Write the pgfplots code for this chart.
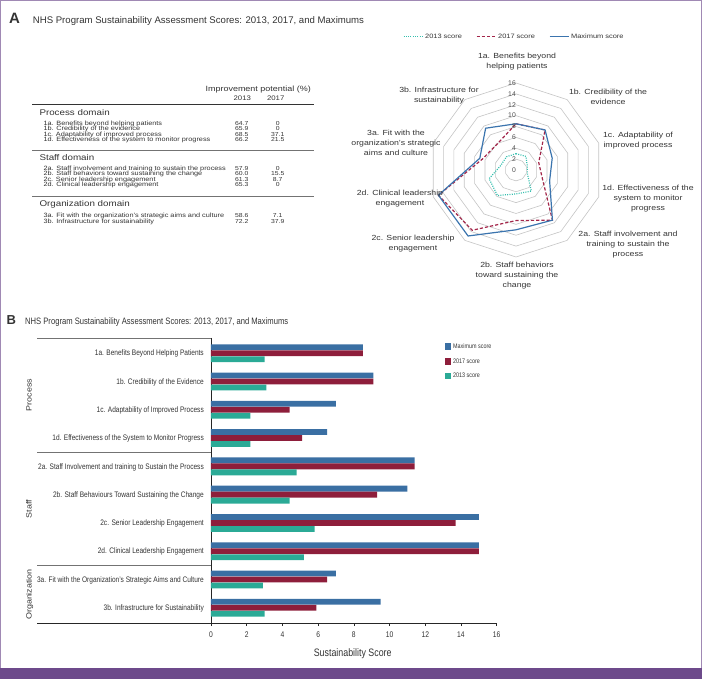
\documentclass[border=0pt]{standalone}
\usepackage{pgfplots}
\pgfplotsset{compat=1.18}
\usepackage{pgfplotstable}
\usepgfplotslibrary{polar}
\usepackage{fontspec}
\setmainfont{Liberation Sans}
\newfontfamily\wide[FakeStretch=1.18]{Liberation Sans}
\newfontfamily\cond[FakeStretch=0.82]{Liberation Sans}
\newcommand\fs[1]{\fontsize{#1}{#1}\selectfont}

\definecolor{maxc}{HTML}{3A6FA3}
\definecolor{c17}{HTML}{8E1E3B}
\definecolor{c13}{HTML}{2BAA96}
\definecolor{rmax}{HTML}{3B74AE}
\definecolor{r17}{HTML}{A3264A}
\definecolor{r13}{HTML}{35BFAE}
\definecolor{frame}{HTML}{6D4A8B}
\definecolor{txt}{HTML}{333333}
\definecolor{ring}{HTML}{C4C4C4}

% scores per item; ang = position on the radar, last row closes the polygon
\pgfplotstableread{
idx ang  max  s17  s13
0   90   8.5  8.5  3.0
1   54   9.1  9.1  3.1
2   18   7.0  4.4  2.2
3   -18  6.5  5.1  2.2
4   -54  11.4 11.4 4.8
5   -90  11.0 9.3  4.4
6   -126 15.0 13.7 5.8
7   -162 15.0 15.0 5.2
8   -198 7.0  6.5  2.9
9   -234 9.5  5.9  3.0
10  -270 8.5  8.5  3.0
}\scores

\begin{document}
\begin{tikzpicture}
\path[use as bounding box] (0,0) rectangle (702pt,-679pt);

% frame
\draw[frame!65, line width=1pt] (0.5pt,-679pt) -- (0.5pt,-0.5pt) -- (701.5pt,-0.5pt) -- (701.5pt,-679pt);
\fill[frame] (0,-667.5pt) rectangle (702pt,-679pt);

% ---------- panel A ----------
\node[anchor=base west, inner sep=0pt, font=\bfseries\fs{15}, text=txt] at (9pt,-23.3pt) {A};
\node[anchor=base west, inner sep=0pt, font=\fs{9.6}, text=txt] at (32.7pt,-23.3pt)
  {NHS Program Sustainability Assessment Scores: 2013, 2017, and Maximums};

% table
\begin{scope}[every node/.style={inner sep=0pt, text=txt}]
\node[anchor=mid, font=\wide\fs{7.6}] at (258.2pt,-88.7pt) {Improvement potential (\%)};
\node[anchor=mid, font=\wide\fs{6.6}] at (242.3pt,-97.7pt) {2013};
\node[anchor=mid, font=\wide\fs{6.6}] at (275.7pt,-97.7pt) {2017};
\draw[line width=0.9pt, txt] (32.3pt,-104.3pt) -- (314pt,-104.3pt);
\draw[line width=1.4pt, black!55] (32.3pt,-150.7pt) -- (314pt,-150.7pt);
\draw[line width=1.4pt, black!55] (32.3pt,-196.7pt) -- (314pt,-196.7pt);
\node[anchor=mid west, font=\wide\fs{8.3}] at (39.3pt,-112.7pt) {Process domain};
\node[anchor=mid west, font=\wide\fs{8.3}] at (39.3pt,-157.7pt) {Staff domain};
\node[anchor=mid west, font=\wide\fs{8.3}] at (39.3pt,-203.7pt) {Organization domain};
\foreach \y/\t/\a/\b in {
  122.7/1a. Benefits beyond helping patients/64.7/0,
  128.3/1b. Credibility of the evidence/65.9/0,
  133.7/1c. Adaptability of improved process/68.5/37.1,
  139.3/1d. Effectiveness of the system to monitor progress/66.2/21.5,
  168.0/2a. Staff involvement and training to sustain the process/57.9/0,
  173.3/2b. Staff behaviors toward sustaining the change/60.0/15.5,
  179.0/2c. Senior leadership engagement/61.3/8.7,
  184.3/2d. Clinical leadership engagement/65.3/0,
  215.0/3a. Fit with the organization’s strategic aims and culture/58.6/7.1,
  220.7/3b. Infrastructure for sustainability/72.2/37.9}{
  \node[anchor=mid west, font=\wide\fs{6.2}] at (43.3pt,-\y pt) {\t};
  \node[anchor=mid, font=\wide\fs{5.8}] at (241.8pt,-\y pt) {\a};
  \node[anchor=mid, font=\wide\fs{5.8}] at (277.7pt,-\y pt) {\b};
}
\end{scope}

% radar
\begin{polaraxis}[
  at={(516pt,-170pt)}, anchor=origin,
  scale only axis, width=174pt, height=174pt,
  ymin=0, ymax=16,
  hide axis, clip=false,
  legend columns=3,
  legend style={at={(axis description cs:0.49,1.266)}, anchor=center, draw=none, fill=none,
    font=\wide\fs{6.3}, text=txt, inner sep=0pt,
    /tikz/every even column/.append style={column sep=12pt}},
  legend image code/.code={\draw[#1] (0pt,0pt) -- (19pt,0pt);},
]
\pgfplotsinvokeforeach{2,4,6,8,10,12,14,16}{
  \addplot[ring, line width=0.6pt, forget plot] coordinates
    {(90,#1) (54,#1) (18,#1) (-18,#1) (-54,#1) (-90,#1) (-126,#1) (-162,#1) (-198,#1) (-234,#1) (-270,#1)};
}
\addplot[r13, line width=1.2pt, dash pattern=on 1pt off 1.3pt, no markers] table[x=ang, y=s13] {\scores};
\addplot[r17, line width=1.2pt, dash pattern=on 3.2pt off 2pt, no markers] table[x=ang, y=s17] {\scores};
\addplot[rmax, line width=1.2pt, no markers] table[x=ang, y=max] {\scores};
\legend{2013 score, 2017 score, Maximum score}
\pgfplotsinvokeforeach{0,2,4,6,8,10,12,14,16}{
  \node[anchor=east, inner sep=0pt, font=\fs{6.8}, text=black!70] at (axis cs:90,#1) {#1\hspace{2pt}};
}
\end{polaraxis}

\begin{scope}[every node/.style={align=center, inner sep=0pt, text=txt, font=\wide\fontsize{7.4}{10}\selectfont}]
\node at (517pt,-62pt) {1a. Benefits beyond\\helping patients};
\node at (608pt,-97pt) {1b. Credibility of the\\evidence};
\node at (638pt,-141pt) {1c. Adaptability of\\improved process};
\node at (648pt,-199pt) {1d. Effectiveness of the\\system to monitor\\progress};
\node at (628pt,-244.5pt) {2a. Staff involvement and\\training to sustain the\\process};
\node at (517pt,-276pt) {2b. Staff behaviors\\toward sustaining the\\change};
\node at (413pt,-244pt) {2c. Senior leadership\\engagement};
\node at (400pt,-198.5pt) {2d. Clinical leadership\\engagement};
\node at (396pt,-142.5pt) {3a. Fit with the\\organization’s strategic\\aims and culture};
\node at (439pt,-96pt) {3b. Infrastructure for\\sustainability};
\end{scope}

% ---------- panel B ----------
\node[anchor=base west, inner sep=0pt, font=\bfseries\fs{13}, text=txt] at (6.5pt,-325pt) {B};
\node[anchor=base west, inner sep=0pt, font=\cond\fs{9.3}, text=txt] at (25pt,-325pt)
  {NHS Program Sustainability Assessment Scores: 2013, 2017, and Maximums};

\begin{axis}[
  at={(211pt,-623pt)}, anchor=south west,
  scale only axis, width=285.7pt, height=285pt,
  xmin=0, xmax=16, ymin=-0.54, ymax=9.54, y dir=reverse,
  axis x line*=bottom, axis y line*=left, axis line style={-, black!85, line width=0.8pt},
  xtick={0,2,...,16}, tick align=outside, major tick length=3pt,
  x tick style={black!85, line width=0.6pt},
  ytick={0,...,9}, y tick style={draw=none},
  yticklabels={1a. Benefits Beyond Helping Patients,
    1b. Credibility of the Evidence,
    1c. Adaptability of Improved Process,
    1d. Effectiveness of the System to Monitor Progress,
    2a. Staff Involvement and training to Sustain the Process,
    2b. Staff Behaviours Toward Sustaining the Change,
    2c. Senior Leadership Engagement,
    2d. Clinical Leadership Engagement,
    3a. Fit with the Organization’s Strategic Aims and Culture,
    3b. Infrastructure for Sustainability},
  yticklabel style={font=\cond\fs{8}, text=txt, inner sep=0pt, anchor=mid east, xshift=-4pt},
  xticklabel style={font=\cond\fs{8.2}, text=txt, inner sep=0pt, anchor=north, yshift=-6pt},
  /pgf/number format/assume math mode=true,
  xlabel={Sustainability Score},
  xlabel style={at={(axis description cs:0.496,0)}, anchor=mid, yshift=-31pt, font=\cond\fs{10.8}, text=txt},
  xbar, bar width=5.8pt,
  legend style={at={(axis description cs:0.819,0.988)}, anchor=north west, draw=none, fill=none,
    font=\cond\fs{6.6}, text=txt, inner sep=0pt, row sep=4.5pt},
  legend cell align=left,
  sq/.style={legend image code/.code={\fill[##1, draw=none] (0pt,-3.4pt) rectangle (6pt,3.4pt);}},
]
\addplot[fill=maxc, draw=none, bar shift=6pt, sq, skip coords between index={10}{11}] table[x=max, y=idx] {\scores};
\addplot[fill=c17, draw=none, bar shift=0pt, sq, skip coords between index={10}{11}] table[x=s17, y=idx] {\scores};
\addplot[fill=c13, draw=none, bar shift=-6pt, sq, skip coords between index={10}{11}] table[x=s13, y=idx] {\scores};
\legend{Maximum score, 2017 score, 2013 score}
\end{axis}

% group rules and labels
\draw[black!55, line width=0.8pt] (37pt,-338pt) -- (211pt,-338pt);
\draw[black!55, line width=0.8pt] (37pt,-452.3pt) -- (211pt,-452.3pt);
\draw[black!55, line width=0.8pt] (37pt,-565.7pt) -- (211pt,-565.7pt);
\draw[black!85, line width=0.8pt] (37pt,-623pt) -- (211pt,-623pt);
\begin{scope}[every node/.style={rotate=90, anchor=mid, inner sep=0pt, text=txt, font=\wide\fs{7.6}}]
\node at (29pt,-395pt) {Process};
\node at (29pt,-509pt) {Staff};
\node at (29pt,-594.5pt) {Organization};
\end{scope}
\end{tikzpicture}
\end{document}
